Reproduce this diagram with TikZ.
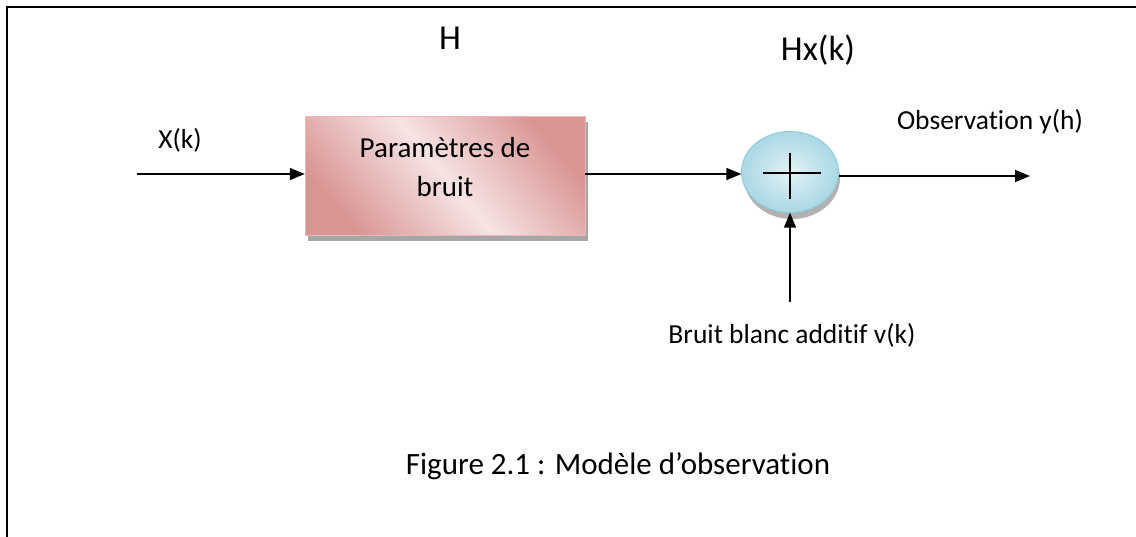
\documentclass[tikz,border=0pt]{standalone}
\usepackage{fontspec}
\setmainfont{Carlito}[Ligatures=NoCommon]
\usetikzlibrary{arrows.meta,positioning,shapes.geometric}

\definecolor{rosedark}{HTML}{D99594}
\definecolor{roselight}{HTML}{F6E4E3}
\definecolor{roseline}{HTML}{E6B9B8}
\definecolor{bleudark}{HTML}{A9D8E4}
\definecolor{bleulight}{HTML}{E3F2F6}
\definecolor{bleuline}{HTML}{92CDDC}

\begin{document}
\begin{tikzpicture}[x=1pt,y=-1pt,
    fleche/.style={line width=1.6pt,-{Triangle[length=15pt,width=12pt]}},
    petit/.style={font=\fontsize{27.5}{32}\selectfont},
    grand/.style={font=\fontsize{35}{42}\selectfont}]
  \useasboundingbox (0,0) rectangle (1136,537);
  % cadre de la figure
  \draw[line width=2pt] (7,537) -- (7,7) -- (1136,7);

  % bloc H
  \fill[gray!70] (308,122) rectangle (588,241);
  \shade[top color=rosedark,bottom color=rosedark,middle color=roselight,shading angle=-50]
    (305,117) rectangle (585,236);
  \draw[roseline,line width=1pt] (305,117) rectangle (585,236);
  \node[inner sep=0pt,minimum width=280pt,minimum height=119pt,align=center] (bloc) at (445,176.5) {};
  \node[align=center,font=\fontsize{29}{39}\selectfont] (lbloc) at (445,167) {Paramètres de\\bruit};

  % sommateur
  \fill[gray!60] (792,178) ellipse (48pt and 41pt);
  \shade[inner color=bleulight,outer color=bleudark] (790,172) ellipse (48.5pt and 40.5pt);
  \draw[bleuline,line width=1pt] (790,172) ellipse (48.5pt and 40.5pt);
  \node[ellipse,minimum width=97pt,minimum height=81pt,inner sep=0pt] (somme) at (790,172) {};
  \draw[line width=1.6pt] (763,173) -- (821,173) (790,153) -- (790,199);

  % entrees et sortie
  \coordinate (entree) at (137,174);
  \coordinate (sortie) at (1030,176);
  \coordinate (bruit) at (790,302);
  \draw[fleche] (entree) -- (entree -| bloc.west);
  \draw[fleche] (bloc.east |- 0,174) -- (somme.west |- 0,174);
  \draw[fleche] (somme.east |- sortie) -- (sortie);
  \draw[fleche] (bruit) -- (somme.south);

  % etiquettes
  \node[petit] (lx) at (180,140) {X(k)};
  \node[grand] (lh) at (450,38) {H};
  \node[grand] (lhx) at (818,50) {Hx(k)};
  \node[petit] (ly) at (990,122) {Observation y(h)};
  \node[petit] (lv) at (792,335) {Bruit blanc additif v(k)};
  \node[font=\fontsize{31}{38}\selectfont] (titre) at (618,466) {Figure 2.1 : Modèle d’observation};
\end{tikzpicture}
\end{document}
